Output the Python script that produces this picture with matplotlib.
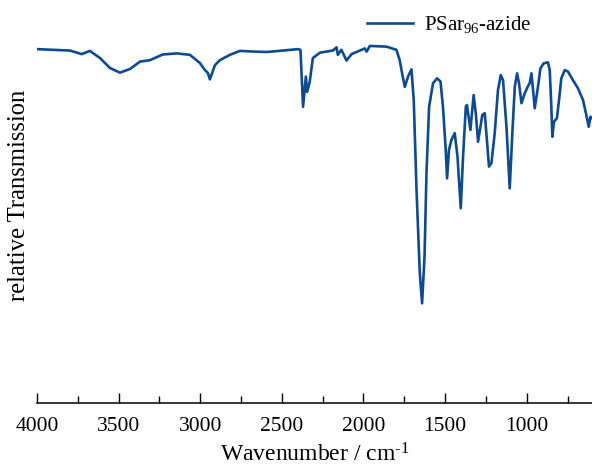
import matplotlib
matplotlib.use("Agg")
import matplotlib.pyplot as plt
from matplotlib.ticker import MultipleLocator

# FT-IR spectrum of PSar96-azide (wavenumber in cm^-1, relative transmission in %)
wavenumber = [
    4000, 3798, 3726, 3676, 3614, 3553, 3492, 3431, 3369, 3308,
    3229, 3143, 3063, 3002, 2971, 2953, 2941, 2910, 2880, 2818,
    2757, 2665, 2592, 2494, 2402, 2386, 2370, 2353, 2345, 2329,
    2310, 2267, 2188, 2165, 2157, 2135, 2104, 2073, 2022, 1992,
    1981, 1961, 1859, 1798, 1778, 1767, 1747, 1727, 1706, 1692,
    1675, 1655, 1641, 1626, 1614, 1598, 1574, 1549, 1528, 1513,
    1496, 1488, 1476, 1461, 1441, 1424, 1404, 1390, 1373, 1366,
    1345, 1325, 1312, 1298, 1272, 1257, 1239, 1231, 1216, 1196,
    1176, 1159, 1145, 1124, 1104, 1088, 1073, 1059, 1047, 1032,
    1012, 992, 982, 971, 961, 951, 931, 916, 896, 870,
    859, 849, 843, 833, 815, 802, 788, 767, 747, 717,
    686, 655, 635, 620, 610, 602,
]
transmission = [
    99.4, 99.0, 98.0, 98.9, 96.9, 94.1, 92.8, 93.8, 95.9, 96.3,
    97.9, 98.2, 97.8, 95.5, 93.5, 92.7, 90.9, 94.9, 96.3, 97.8,
    98.9, 98.7, 98.6, 99.0, 99.4, 99.2, 83.2, 91.7, 87.4, 90.3,
    96.9, 98.4, 99.0, 99.9, 97.8, 99.2, 96.2, 98.0, 99.0, 99.6,
    98.7, 100.3, 100.1, 99.2, 96.3, 93.5, 88.8, 91.7, 93.7, 85.1,
    59.8, 36.5, 28.0, 41.1, 64.6, 83.2, 89.8, 91.2, 90.3, 83.2,
    71.1, 63.1, 71.1, 73.9, 75.8, 69.2, 54.7, 69.2, 83.2, 83.7,
    76.7, 86.5, 81.4, 73.4, 80.9, 81.4, 71.1, 66.4, 67.4, 75.8,
    87.9, 92.1, 90.7, 77.6, 60.3, 75.8, 88.8, 92.6, 89.8, 84.2,
    87.0, 89.0, 89.8, 92.6, 87.9, 82.8, 88.8, 94.0, 95.4, 95.7,
    93.5, 83.2, 74.8, 79.0, 80.0, 85.1, 91.2, 93.5, 93.1, 90.7,
    88.4, 85.1, 80.9, 77.6, 80.4, 80.1,
]
series_label = r"PSar$_{96}$-azide"

plt.rcParams["font.family"] = ["Liberation Serif", "DejaVu Serif"]
plt.rcParams["mathtext.fontset"] = "custom"
plt.rcParams["mathtext.rm"] = "Liberation Serif"
plt.rcParams["mathtext.it"] = "Liberation Serif:italic"

fig = plt.figure(figsize=(5.92, 4.66), dpi=100)
ax = fig.add_axes([0.0625, 0.1352, 0.9375, 0.8648])

ax.plot(wavenumber, transmission, color="#0d4a8f", lw=1.9,
        solid_joinstyle="round", label=series_label)

ax.set_xlim(4000, 600)
ax.set_ylim(0, 113.2)

for side in ("top", "right", "left"):
    ax.spines[side].set_visible(False)
ax.spines["bottom"].set_linewidth(1.1)
ax.set_yticks([])

ax.xaxis.set_major_locator(MultipleLocator(500))
ax.xaxis.set_minor_locator(MultipleLocator(250))
ax.tick_params(axis="x", which="major", direction="in", length=7.5,
               width=1.0, labelsize=15.5, pad=10)
ax.tick_params(axis="x", which="minor", direction="in", length=4.8,
               width=1.0)

ax.set_xlabel(r"Wavenumber / cm$^{\text{-}1}$", fontsize=17, labelpad=5)
ax.set_ylabel("relative Transmission", fontsize=17.7)
ax.yaxis.set_label_coords(-0.012, 0.515)

ax.legend(loc="upper left", bbox_to_anchor=(367 / 592, 1 - 14 / 466),
          bbox_transform=fig.transFigure, frameon=False, fontsize=15,
          handlelength=2.2, handletextpad=0.55, borderpad=0,
          borderaxespad=0)

fig.savefig("out.png", dpi=100)
